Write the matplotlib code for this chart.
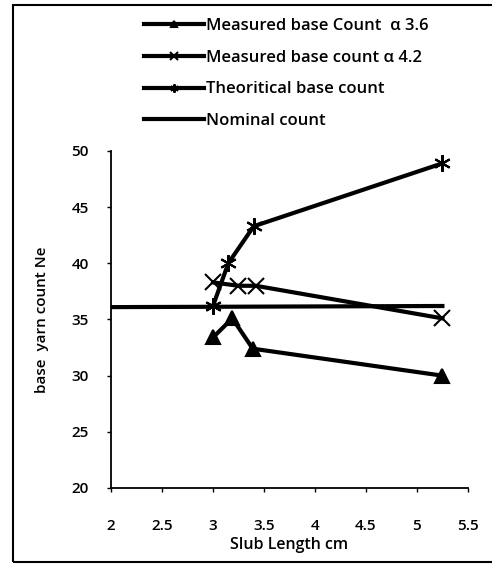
from matplotlib import pyplot as plt
from matplotlib.patches import Rectangle

plt.rcParams['font.family'] = ['Open Sans', 'DejaVu Sans']

# slub length (cm) and base yarn counts (Ne)
slub_36 = [3.0, 3.19, 3.39, 5.25]
count_36 = [33.4, 35.1, 32.4, 30.0]

slub_42 = [3.0, 3.25, 3.42, 5.25]
count_42 = [38.3, 38.0, 38.0, 35.1]

slub_theo = [3.0, 3.15, 3.4, 5.25]
count_theo = [36.2, 40.0, 43.3, 48.9]

slub_nom = [2.0, 5.25]
count_nom = [36.1, 36.2]

x_ticks = [2, 2.5, 3, 3.5, 4, 4.5, 5, 5.5]
y_ticks = [20, 25, 30, 35, 40, 45, 50]

fig = plt.figure(figsize=(4.92, 5.64), dpi=100)
ax = fig.add_axes([0.2256, 0.1348, 0.7254, 0.5975])

l1, = ax.plot(slub_36, count_36, color='black', lw=3, marker='^', ms=10, mew=1.5)
l2, = ax.plot(slub_42, count_42, color='black', lw=3, marker='x', ms=12, mew=1.5)
l3, = ax.plot(slub_theo, count_theo, color='black', lw=3, marker=(6, 2, 0), ms=12, mew=1.5)
l4, = ax.plot(slub_nom, count_nom, color='black', lw=3)

ax.set_xlim(2, 5.5)
ax.set_ylim(20, 50)
ax.set_xticks(x_ticks)
ax.set_xticklabels([f'{t:g}' for t in x_ticks])
ax.set_yticks(y_ticks)
for s in ['top', 'right']:
    ax.spines[s].set_visible(False)
ax.spines['left'].set_linewidth(1.3)
ax.spines['bottom'].set_linewidth(1.3)
ax.tick_params(axis='x', direction='out', length=3, width=1, pad=19, labelsize=11)
ax.tick_params(axis='y', direction='out', length=3, width=1, pad=13, labelsize=11)
for lab in ax.get_xticklabels() + ax.get_yticklabels():
    lab.set_fontweight('semibold')

ax.set_xlabel('Slub Length cm', fontsize=11.5, fontweight='semibold', labelpad=3)
ax.set_ylabel('base  yarn count Ne', fontsize=11, fontweight='semibold', labelpad=16)

fig.legend([l1, l2, l3, l4],
           ['Measured base Count  \u03b1 3.6', 'Measured base count \u03b1 4.2',
            'Theoritical base count', 'Nominal count'],
           loc='upper left', bbox_to_anchor=(0.262, 0.995), frameon=False,
           prop={'size': 12, 'weight': 'semibold'}, markerscale=0.5,
           handlelength=3.6, handletextpad=0.1, labelspacing=0.95)

# outer border
fig.patches.append(Rectangle((0.026, 0.004), 0.99, 0.987, transform=fig.transFigure,
                             fill=False, edgecolor='black', lw=1.5))

fig.savefig('out.png', dpi=100)
